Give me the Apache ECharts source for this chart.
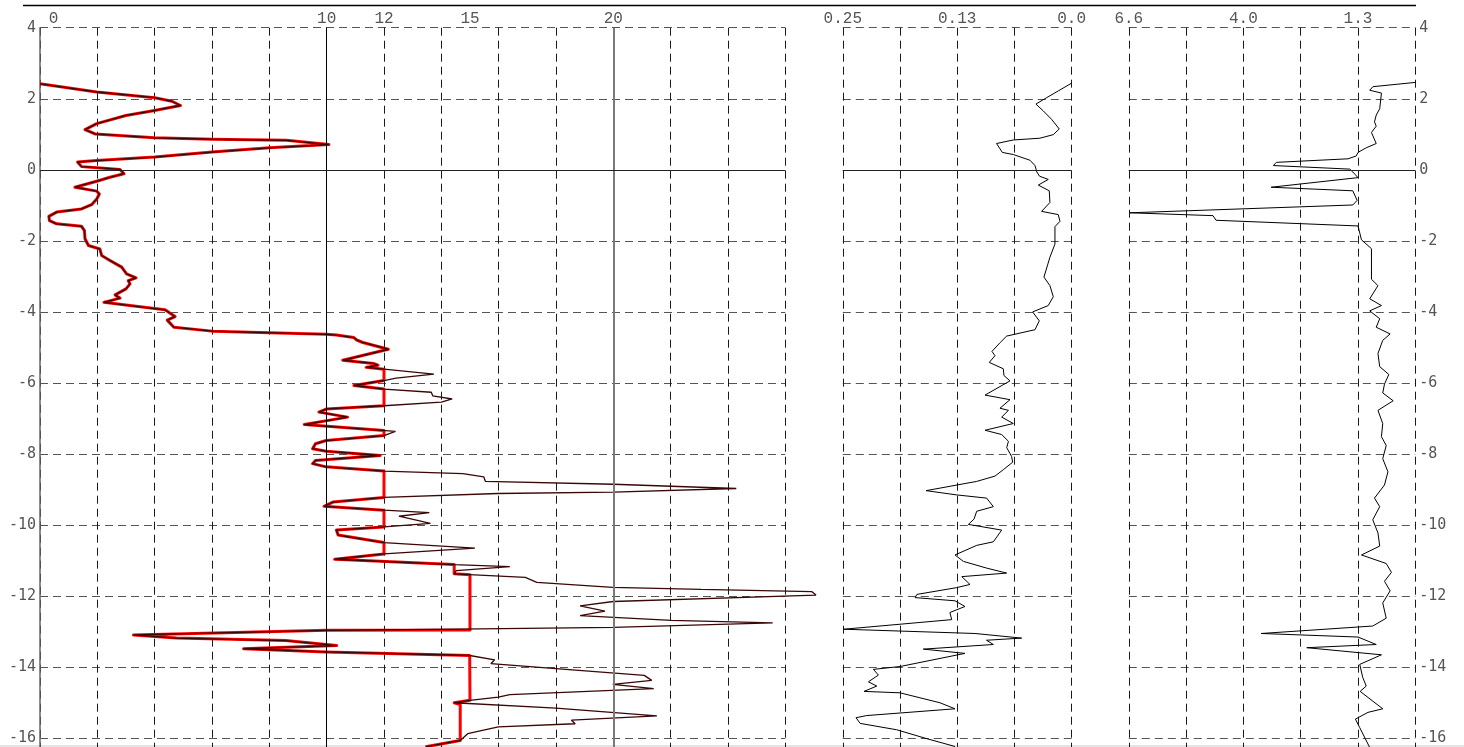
<!DOCTYPE html>
<html>
<head>
<meta charset="utf-8">
<script src="https://cdn.jsdelivr.net/npm/echarts@6/dist/echarts.min.js"></script>
<style>
  html, body { margin: 0; padding: 0; background: #fff; }
  #log { width: 1464px; height: 747px; }
</style>
</head>
<body>
<div id="log"></div>
<script>
// Cone resistance qc (raw trace), depth in m
const qcDepth = [2.42, 2.19, 2.03, 1.93, 1.81, 1.67, 1.53, 1.30, 1.13, 1.01, 0.90, 0.86, 0.83, 0.71, 0.62, 0.50, 0.36, 0.26, 0.22, 0.09, 0.06, 0.01,
  -0.11, -0.21, -0.32, -0.49, -0.60, -0.68, -0.82, -0.98, -1.10, -1.19, -1.31, -1.43, -1.52, -1.59, -1.71, -1.94, -2.13, -2.23, -2.41, -2.55,
  -2.74, -2.93, -3.04, -3.12, -3.21, -3.35, -3.52, -3.61, -3.73, -3.82, -3.94, -4.13, -4.23, -4.43, -4.54, -4.63, -4.65, -4.72, -4.79, -4.86,
  -5.05, -5.36, -5.45, -5.50, -5.56, -5.61, -5.75, -5.86, -5.93, -6.07, -6.17, -6.26, -6.36, -6.45, -6.54, -6.64, -6.73, -6.82, -6.96, -7.17,
  -7.36, -7.48, -7.62, -7.71, -7.85, -7.92, -8.04, -8.18, -8.27, -8.36, -8.48, -8.55, -8.64, -8.77, -8.85, -8.97, -9.07, -9.11, -9.22, -9.35,
  -9.47, -9.58, -9.65, -9.75, -9.95, -10.05, -10.14, -10.28, -10.49, -10.65, -10.81, -10.96, -11.11, -11.17, -11.28, -11.37, -11.47, -11.61,
  -11.75, -11.81, -11.87, -11.97, -12.15, -12.27, -12.42, -12.55, -12.68, -12.75, -12.88, -12.92, -12.96, -13.09, -13.18, -13.25, -13.39,
  -13.48, -13.57, -13.67, -13.79, -13.90, -14.04, -14.23, -14.37, -14.48, -14.60, -14.77, -14.84, -14.93, -15.00, -15.15, -15.37, -15.49,
  -15.59, -15.68, -15.87, -16.06, -16.24];
const qcRaw = [0, 1.98, 4.0, 4.6, 4.9, 4.0, 3.0, 1.98, 1.57, 1.92, 4.0, 6.0, 8.6, 10.08, 8.0, 6.0, 4.0, 1.98, 1.31, 1.45, 1.98, 2.79,
  2.93, 2.44, 1.98, 1.22, 1.98, 2.07, 1.98, 1.80, 1.45, 0.58, 0.31, 0.33, 0.58, 1.45, 1.55, 1.57, 1.69, 2.09, 2.15, 2.44,
  2.85, 3.02, 3.35, 3.08, 3.14, 3.0, 2.62, 2.79, 2.23, 3.14, 4.36, 4.71, 4.44, 4.67, 6.0, 10.0, 10.34, 10.95, 11.05, 11.26,
  12.15, 10.56, 11.63, 11.79, 11.38, 12.0, 13.74, 12.42, 12.0, 10.95, 12.0, 13.65, 13.7, 14.38, 14.0, 12.0, 10.0, 9.73, 10.73, 9.22,
  12.4, 12.0, 9.98, 9.61, 9.51, 9.98, 11.87, 9.61, 9.51, 9.98, 12.0, 14.75, 15.48, 15.54, 20.0, 24.29, 20.0, 15.97, 12.0, 10.22,
  9.91, 12.0, 13.58, 12.52, 13.62, 12.0, 10.34, 10.4, 12.0, 15.17, 12.0, 10.28, 14.45, 16.39, 14.52, 14.45, 16.93, 17.33,
  19.98, 23.06, 26.92, 27.07, 20.0, 18.84, 19.71, 18.84, 22.03, 25.56, 20.0, 15.35, 10.0, 3.26, 4.76, 8.57, 10.35,
  7.1, 9.97, 14.99, 15.86, 15.73, 18.0, 21.08, 21.34, 19.98, 21.41, 16.39, 15.99, 14.99, 14.45, 18.0, 21.52, 18.54,
  18.67, 15.99, 14.92, 14.66, 13.45];

// Cone resistance qc, limited design trace
const qcLimDepth = [2.42, 2.19, 2.03, 1.93, 1.81, 1.67, 1.53, 1.30, 1.13, 1.01, 0.90, 0.86, 0.83, 0.71, 0.62, 0.50, 0.36, 0.26, 0.22, 0.09, 0.06, 0.01,
  -0.11, -0.21, -0.32, -0.49, -0.60, -0.68, -0.82, -0.98, -1.10, -1.19, -1.31, -1.43, -1.52, -1.59, -1.71, -1.94, -2.13, -2.23, -2.41, -2.55,
  -2.74, -2.93, -3.04, -3.12, -3.21, -3.35, -3.52, -3.61, -3.73, -3.82, -3.94, -4.13, -4.23, -4.43, -4.54, -4.63, -4.65, -4.72, -4.79, -4.86,
  -5.05, -5.36, -5.45, -5.50, -5.56, -5.61, -5.93, -6.07, -6.17, -6.64, -6.73, -6.82, -6.96, -7.17, -7.34, -7.48, -7.62, -7.71, -7.85, -7.92,
  -8.04, -8.18, -8.27, -8.36, -8.48, -9.22, -9.35, -9.47, -9.58, -10.05, -10.14, -10.28, -10.49, -10.81, -10.96, -11.11, -11.37, -11.40,
  -12.95, -12.96, -13.09, -13.18, -13.25, -13.39, -13.48, -13.57, -13.67, -14.93, -15.00, -15.05, -16.06, -16.24];
const qcLim = [0, 1.98, 4.0, 4.6, 4.9, 4.0, 3.0, 1.98, 1.57, 1.92, 4.0, 6.0, 8.6, 10.08, 8.0, 6.0, 4.0, 1.98, 1.31, 1.45, 1.98, 2.79,
  2.93, 2.44, 1.98, 1.22, 1.98, 2.07, 1.98, 1.80, 1.45, 0.58, 0.31, 0.33, 0.58, 1.45, 1.55, 1.57, 1.69, 2.09, 2.15, 2.44,
  2.85, 3.02, 3.35, 3.08, 3.14, 3.0, 2.62, 2.79, 2.23, 3.14, 4.36, 4.71, 4.44, 4.67, 6.0, 10.0, 10.34, 10.95, 11.05, 11.26,
  12.15, 10.56, 11.63, 11.79, 11.38, 12.0, 12.0, 10.95, 12.0, 12.0, 10.0, 9.73, 10.73, 9.22, 12.0, 12.0, 9.98, 9.61, 9.51, 9.98,
  11.87, 9.61, 9.51, 9.98, 12.0, 12.0, 10.22, 9.91, 12.0, 12.0, 10.34, 10.4, 12.0, 12.0, 10.28, 14.45, 14.45, 15.0,
  15.0, 10.0, 3.26, 4.76, 8.57, 10.35, 7.1, 9.97, 14.99, 15.0, 14.45, 14.66, 14.66, 13.45];

// Sleeve friction fs
const fsDepth = [2.44, 2.22, 2.03, 1.85, 1.66, 1.42, 1.15, 0.99, 0.89, 0.84, 0.74, 0.49, 0.43, 0.27, 0.12, -0.06, -0.18, -0.27, -0.43, -0.59,
  -0.92, -1.17, -1.26, -1.45, -1.60, -2.09, -2.46, -3.02, -3.26, -3.57, -3.82, -4.00, -4.25, -4.50, -4.68, -4.86, -5.11, -5.23, -5.42,
  -5.60, -5.79, -5.94, -6.34, -6.47, -6.71, -6.77, -6.96, -7.14, -7.33, -7.45, -7.64, -7.82, -8.07, -8.23, -8.44, -8.62, -8.77, -9.03,
  -9.15, -9.24, -9.48, -9.61, -9.83, -9.98, -10.14, -10.47, -10.57, -10.84, -11.02, -11.21, -11.35, -11.45, -11.67, -11.76, -11.95,
  -12.04, -12.13, -12.29, -12.46, -12.66, -12.93, -13.05, -13.18, -13.24, -13.36, -13.49, -13.61, -13.98, -14.06, -14.22, -14.41,
  -14.53, -14.68, -14.72, -15.00, -15.17, -15.36, -15.42, -15.58, -15.76, -16.01, -16.23];
const fs = [0.0, 0.0146, 0.0273, 0.039, 0.031, 0.0218, 0.0135, 0.020, 0.0346, 0.0637, 0.082, 0.0757, 0.0637, 0.0455, 0.040, 0.038, 0.035,
  0.0255, 0.0364, 0.0244, 0.0237, 0.0328, 0.0146, 0.0127, 0.0182, 0.0182, 0.0237, 0.0302, 0.0237, 0.020, 0.0255, 0.0426, 0.0353, 0.040,
  0.071, 0.078, 0.087, 0.0837, 0.0899, 0.0746, 0.0739, 0.0673, 0.0946, 0.0673, 0.0783, 0.069, 0.0764, 0.0637, 0.0946, 0.0764, 0.069,
  0.0709, 0.0655, 0.0644, 0.0746, 0.0837, 0.1037, 0.159, 0.1256, 0.0928, 0.0855, 0.1037, 0.1066, 0.1128, 0.0764, 0.0855, 0.1037,
  0.1274, 0.1183, 0.0928, 0.071, 0.120, 0.111, 0.1256, 0.169, 0.171, 0.1274, 0.1165, 0.133, 0.131, 0.249, 0.1056, 0.0546, 0.093,
  0.0855, 0.162, 0.1165, 0.1875, 0.2166, 0.2111, 0.222, 0.2129, 0.2268, 0.1875, 0.1438, 0.1274, 0.2239, 0.2355, 0.2311, 0.1911,
  0.1583, 0.1274];

// Friction ratio Rf
const rfDepth = [2.46, 2.34, 2.24, 2.16, 1.72, 1.54, 1.35, 1.23, 1.05, 0.74, 0.62, 0.49, 0.39, 0.31, 0.21, 0.12, 0.02, -0.06, -0.22, -0.49,
  -0.59, -0.86, -0.99, -1.21, -1.29, -1.42, -1.58, -1.97, -2.22, -3.08, -3.26, -3.63, -3.82, -3.97, -4.19, -4.43, -4.62, -4.80, -5.17,
  -5.54, -5.76, -6.03, -6.28, -6.50, -6.77, -7.14, -7.51, -7.76, -8.13, -8.50, -8.87, -9.24, -9.48, -9.85, -10.22, -10.59, -10.84,
  -11.08, -11.33, -11.58, -11.85, -12.19, -12.62, -12.84, -13.05, -13.15, -13.36, -13.45, -13.65, -13.92, -14.29, -14.53, -14.68,
  -15.17, -15.27, -15.46, -15.70, -16.26];
const rf = [0, 0.976, 1.05, 0.78, 0.82, 0.9, 0.94, 0.9, 1.01, 0.9, 1.13, 1.32, 1.36, 1.55, 3.2, 3.27, 1.51, 1.44, 1.32, 3.32,
  1.44, 1.34, 1.44, 6.58, 4.66, 4.59, 1.32, 1.24, 1.01, 1.01, 0.86, 1.05, 0.78, 1.05, 0.82, 0.9, 0.58, 0.75, 0.86,
  0.82, 0.61, 0.71, 0.75, 0.51, 0.86, 0.75, 0.78, 0.67, 0.75, 0.63, 0.71, 0.94, 0.82, 0.98, 0.86, 0.82, 1.24,
  0.67, 0.55, 0.71, 0.58, 0.75, 0.67, 0.98, 3.55, 1.32, 0.9, 2.5, 0.78, 1.28, 1.21, 1.13, 1.27,
  0.75, 1.09, 1.38, 1.28, 1.05];

// Header scale labels
const qcLabelValues = [0, 10, 12, 15, 20];
const fsLabelValues = [0.25, 0.125, 0];
const fsLabelText = ['0.25', '0.13', '0.0'];
const rfLabelValues = [6.6, 3.96, 1.32];

const pairs = (xs, ys) => xs.map((x, i) => [x, ys[i]]);

const HEAD_FONT = 'Liberation Mono';
const DEPTH_FONT = 'DejaVu Sans Mono';
const UNIT = 35.53;            // pixels per metre of depth
const QC_UNIT = 745.3 / 26;    // pixels per MPa on the qc track
const TOP = 27.7;
const DEPTH_MAX = 4, DEPTH_MIN = -18;
const gridHeight = (DEPTH_MAX - DEPTH_MIN) * UNIT;

const vDash = { color: '#1a1a1a', width: 1, type: [8, 5] };
const hDash = { color: '#555', width: 1, type: [8, 5] };

function depthAxis(gridIndex, side) {
  return {
    type: 'value', gridIndex, min: DEPTH_MIN, max: DEPTH_MAX, interval: 2,
    position: side || 'left',
    axisLine: { show: side === 'left', lineStyle: { color: '#666', width: 1.5 } },
    axisTick: { show: false },
    axisLabel: {
      show: !!side, margin: 4, color: '#555',
      fontFamily: DEPTH_FONT, fontSize: 15
    },
    splitLine: { show: true, lineStyle: hDash }
  };
}

function headLabel(extra) {
  return Object.assign({
    show: true, margin: 1, color: '#555', fontFamily: HEAD_FONT, fontSize: 16, lineHeight: 16
  }, extra);
}

const guide = (xi, yi, lines) => ({
  type: 'line', xAxisIndex: xi, yAxisIndex: yi, data: [], z: 1, silent: true,
  markLine: { silent: true, symbol: 'none', label: { show: false }, animation: false, data: lines }
});

const zeroLine = { yAxis: 0, lineStyle: { color: '#222', width: 1.2, type: 'solid' } };

const panelGrid = (left, width) => ({
  left, top: TOP, width, height: gridHeight,
  containLabel: false, outerBoundsMode: 'none'
});

const chart = echarts.init(document.getElementById('log'), null, { renderer: 'canvas' });
chart.setOption({
  animation: false,
  backgroundColor: '#fff',
  grid: [
    panelGrid(40, 745.3),
    panelGrid(842.8, 228.8),
    panelGrid(1128.8, 286.5),
    // same qc scale, widened so the deepest spikes can run into the gap
    panelGrid(40, 28 * QC_UNIT)
  ],
  xAxis: [
    {
      type: 'value', gridIndex: 0, min: 0, max: 26, interval: 2, position: 'top',
      axisLine: { show: false }, axisTick: { show: false },
      axisLabel: headLabel({
        customValues: qcLabelValues,
        formatter: v => (v === 0 ? '{z|0}' : String(v)),
        rich: { z: { padding: [0, 0, 0, 27], fontFamily: HEAD_FONT, fontSize: 16, color: '#555' } }
      }),
      splitLine: { show: true, lineStyle: vDash }
    },
    {
      type: 'value', gridIndex: 1, min: 0, max: 0.25, interval: 0.0625, inverse: true, position: 'top',
      axisLine: { show: false }, axisTick: { show: false },
      axisLabel: headLabel({
        customValues: fsLabelValues,
        formatter: v => {
          let k = 0;
          fsLabelValues.forEach((t, i) => { if (Math.abs(t - v) < Math.abs(fsLabelValues[k] - v)) k = i; });
          return fsLabelText[k];
        }
      }),
      splitLine: { show: true, lineStyle: vDash }
    },
    {
      type: 'value', gridIndex: 2, min: 0, max: 6.6, interval: 1.32, inverse: true, position: 'top',
      axisLine: { show: false }, axisTick: { show: false },
      axisLabel: headLabel({ customValues: rfLabelValues, formatter: v => v.toFixed(1) }),
      splitLine: { show: true, lineStyle: vDash }
    },
    { type: 'value', gridIndex: 3, min: 0, max: 28, show: false }
  ],
  yAxis: [
    depthAxis(0, 'left'), depthAxis(1, null), depthAxis(2, 'right'),
    { type: 'value', gridIndex: 3, min: DEPTH_MIN, max: DEPTH_MAX, show: false }
  ],
  series: [
    guide(0, 0, [
      { xAxis: 10, lineStyle: { color: '#000', width: 1, type: 'solid' } },
      { xAxis: 20, lineStyle: { color: '#7a7a7a', width: 2, type: 'solid' } },
      zeroLine
    ]),
    guide(1, 1, [zeroLine]),
    guide(2, 2, [zeroLine]),
    {
      name: 'qc limited', type: 'line', xAxisIndex: 0, yAxisIndex: 0, z: 2,
      data: pairs(qcLim, qcLimDepth), showSymbol: false, symbol: 'none',
      lineStyle: { color: '#ff0000', width: 3, join: 'round' }
    },
    {
      name: 'qc', type: 'line', xAxisIndex: 3, yAxisIndex: 3, z: 3,
      data: pairs(qcRaw, qcDepth), showSymbol: false, symbol: 'none',
      lineStyle: { color: '#3a0606', width: 1.3 }
    },
    {
      name: 'fs', type: 'line', xAxisIndex: 1, yAxisIndex: 1, z: 3,
      data: pairs(fs, fsDepth), showSymbol: false, symbol: 'none',
      lineStyle: { color: '#000', width: 1 }
    },
    {
      name: 'Rf', type: 'line', xAxisIndex: 2, yAxisIndex: 2, z: 3,
      data: pairs(rf, rfDepth), showSymbol: false, symbol: 'none',
      lineStyle: { color: '#000', width: 1 }
    }
  ],
  graphic: [
    { type: 'line', shape: { x1: 23, y1: 5.5, x2: 1416, y2: 5.5 }, style: { stroke: '#000', lineWidth: 1.5 }, silent: true },
    { type: 'rect', shape: { x: 0, y: 745, width: 1464, height: 2 }, style: { fill: '#e4e4e4' }, silent: true }
  ]
});
</script>
</body>
</html>
